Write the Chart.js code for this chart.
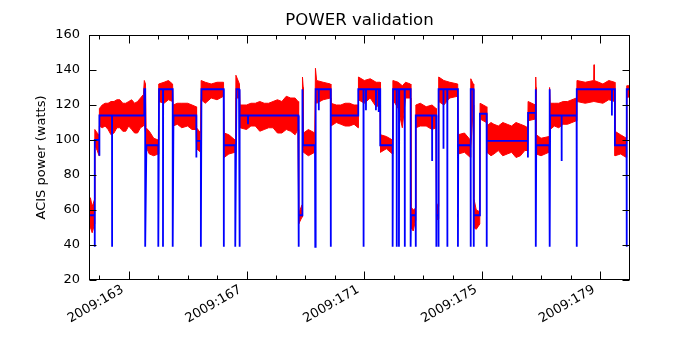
<!DOCTYPE html>
<html>
<head>
<meta charset="utf-8">
<title>POWER validation</title>
<script src="https://cdn.jsdelivr.net/npm/chart.js@4/dist/chart.umd.min.js"></script>
<style>
    body { margin: 0; background: #fff; }
    canvas { display: block; }
</style>
</head>
<body>
<canvas id="powerChart" width="700" height="350"></canvas>
<script>
// x values are day-of-year in 2009
const xMin = 161.652;
const xMax = 180.02;
const majorTickDays = [163, 167, 171, 175, 179];
const minorTickDays = [162, 164, 165, 166, 168, 169, 170, 172, 173, 174, 176, 177, 178, 180];
const yTickValues = [20, 40, 60, 80, 100, 120, 140, 160];

// model power (blue step line)
const modelDay = [
    161.652, 161.846, 161.846, 161.850, 162.000, 162.000, 162.010, 162.433, 162.433, 162.440,
    163.530, 163.530, 163.560, 163.560, 163.600, 164.005, 164.005, 164.030, 164.164, 164.164,
    164.170, 164.494, 164.494, 164.520, 165.295, 165.295, 165.300, 165.450, 165.450, 165.470,
    166.225, 166.225, 166.235, 166.618, 166.618, 166.660, 166.745, 166.755, 166.778, 167.050,
    167.050, 167.055, 168.757, 168.764, 168.780, 168.893, 168.893, 168.905, 168.920, 169.324,
    169.334, 169.348, 169.449, 169.449, 169.460, 169.857, 169.857, 169.867, 170.794, 170.794,
    170.970, 170.970, 170.980, 171.055, 171.055, 171.060, 171.394, 171.394, 171.400, 171.486,
    171.486, 171.490, 171.540, 171.540, 171.961, 171.961, 171.975, 172.097, 172.097, 172.105,
    172.175, 172.175, 172.185, 172.369, 172.369, 172.380, 172.572, 172.572, 172.585, 172.742,
    172.742, 172.752, 173.300, 173.300, 173.305, 173.441, 173.441, 173.450, 173.516, 173.516,
    173.525, 173.686, 173.686, 173.690, 173.815, 173.815, 173.825, 174.178, 174.178, 174.188,
    174.609, 174.609, 174.615, 174.705, 174.711, 174.720, 174.925, 174.925, 175.152, 175.152,
    175.160, 176.554, 176.554, 176.560, 176.815, 176.815, 176.825, 176.825, 176.836, 177.280,
    177.280, 177.300, 177.300, 177.310, 177.698, 177.698, 177.703, 178.207, 178.207, 178.217,
    179.405, 179.405, 179.410, 179.507, 179.507, 179.904, 179.904, 179.914, 180.020
];
const modelWatts = [
    57, 57, 39, 100, 100, 91, 114, 114, 39, 114,
    114, 129, 129, 39, 97, 97, 39, 129, 129, 39,
    129, 129, 39, 114, 114, 90, 99.5, 99.5, 39, 129,
    129, 39, 97, 97, 39, 129, 129, 39, 114, 114,
    109, 114, 114, 39, 57, 57, 129, 129, 97, 97,
    39, 129, 129, 117, 129, 129, 39, 114, 114, 129,
    129, 39, 129, 129, 117, 129, 129, 117, 129, 129,
    116, 129, 129, 97, 97, 39, 129, 129, 39, 129,
    129, 39, 129, 129, 39, 129, 129, 39, 57, 57,
    39, 114, 114, 88, 114, 114, 39, 57, 57, 39,
    129, 129, 95, 129, 129, 39, 129, 129, 39, 97,
    97, 39, 129, 129, 39, 57, 57, 115, 115, 39,
    99.5, 99.5, 90, 115.5, 115.5, 129, 129, 39, 97, 97,
    129, 129, 39, 114, 114, 88, 114, 114, 39, 129,
    129, 114, 129, 129, 97, 97, 39, 129, 129
];

// telemetry (red) - low / high edge of the noisy band
const telemDay = [
    161.652, 161.700, 161.760, 161.840, 161.850, 161.930, 161.995, 162.005, 162.100, 162.200,
    162.300, 162.400, 162.500, 162.600, 162.700, 162.800, 162.900, 163.000, 163.100, 163.200,
    163.300, 163.400, 163.500, 163.530, 163.570, 163.590, 163.700, 163.850, 164.000, 164.020,
    164.200, 164.350, 164.490, 164.510, 164.650, 164.800, 165.000, 165.150, 165.290, 165.305,
    165.440, 165.460, 165.600, 165.800, 166.000, 166.220, 166.240, 166.400, 166.610, 166.640,
    166.760, 166.780, 167.000, 167.150, 167.300, 167.450, 167.600, 167.750, 167.900, 168.050,
    168.200, 168.350, 168.500, 168.650, 168.750, 168.770, 168.885, 168.900, 168.925, 168.935,
    169.100, 169.320, 169.340, 169.380, 169.600, 169.850, 169.865, 170.050, 170.200, 170.350,
    170.500, 170.650, 170.790, 170.800, 171.000, 171.200, 171.400, 171.535, 171.550, 171.750,
    171.955, 171.970, 172.150, 172.290, 172.400, 172.565, 172.580, 172.660, 172.735, 172.750,
    172.900, 173.100, 173.300, 173.435, 173.450, 173.510, 173.525, 173.700, 173.900, 174.170,
    174.185, 174.400, 174.600, 174.615, 174.700, 174.715, 174.800, 174.920, 174.930, 175.145,
    175.160, 175.300, 175.400, 175.550, 175.700, 175.850, 176.000, 176.150, 176.300, 176.450,
    176.550, 176.560, 176.810, 176.820, 176.830, 176.840, 177.000, 177.270, 177.290, 177.310,
    177.450, 177.600, 177.750, 177.900, 178.050, 178.200, 178.220, 178.500, 178.790, 178.800,
    178.810, 179.100, 179.300, 179.500, 179.510, 179.700, 179.900, 179.910, 180.020
];
const telemLow = [
    49, 50, 47, 52, 97, 94, 91, 108, 107, 108,
    106, 103, 104, 107, 107, 105, 105, 108, 106, 104,
    104, 107, 108, 110, 104, 96, 92, 91, 92, 122,
    121, 123, 122, 108, 109, 107, 108, 106, 106, 95,
    93, 123, 121, 124, 123, 125, 90, 92, 93, 124,
    124, 107, 106, 108, 108, 105, 106, 107, 107, 104,
    104, 106, 105, 103, 106, 52, 56, 97, 95, 93,
    91, 93, 122, 121, 123, 124, 108, 110, 109, 108,
    108, 109, 107, 123, 121, 124, 119, 120, 93, 95,
    92, 123, 118, 107, 124, 124, 50, 48, 54, 107,
    108, 108, 106, 107, 54, 55, 122, 120, 124, 125,
    92, 93, 90, 95, 120, 50, 49, 52, 112, 110,
    93, 91, 92, 94, 91, 92, 93, 90, 91, 94,
    94, 111, 112, 100, 96, 92, 91, 93, 110, 106,
    108, 107, 109, 109, 110, 111, 122, 121, 122, 122,
    122, 121, 123, 122, 91, 92, 90, 124, 125
];
const telemHigh = [
    64, 67, 62, 66, 106, 104, 103, 118, 120, 121,
    121, 122, 122, 123, 123, 121, 121, 122, 123, 121,
    122, 124, 126, 134, 132, 107, 105, 101, 100, 132,
    133, 134, 132, 120, 121, 121, 121, 120, 119, 107,
    104, 134, 133, 132, 133, 133, 104, 103, 100, 137,
    132, 120, 120, 121, 121, 122, 121, 121, 122, 123,
    122, 125, 124, 124, 122, 58, 63, 136, 130, 104,
    106, 104, 141, 134, 133, 132, 121, 120, 120, 121,
    121, 120, 120, 136, 134, 135, 133, 133, 103, 102,
    100, 134, 133, 131, 133, 132, 62, 60, 61, 120,
    121, 119, 120, 118, 64, 62, 136, 134, 133, 132,
    103, 104, 100, 135, 132, 67, 60, 59, 121, 119,
    108, 110, 109, 108, 110, 109, 108, 110, 109, 108,
    107, 122, 120, 136, 130, 103, 101, 102, 130, 121,
    121, 121, 122, 122, 123, 124, 134, 133, 134, 143,
    134, 132, 134, 133, 105, 103, 101, 131, 131
];

function toPoints(xs, ys) {
    return xs.map((x, i) => ({ x: x, y: ys[i] }));
}

const fontFamily = "'DejaVu Sans', sans-serif";

// matplotlib style frame with inward ticks on all four sides
const axesFrame = {
    id: 'axesFrame',
    afterDatasetsDraw(chart) {
        const ctx = chart.ctx;
        const area = chart.chartArea;
        const xs = chart.scales.x;
        const ys = chart.scales.y;
        const left = Math.round(area.left) + 0.5;
        const right = Math.round(area.right) - 0.5;
        const top = Math.round(area.top) + 0.5;
        const bottom = Math.round(area.bottom) - 0.5;

        ctx.save();
        ctx.strokeStyle = '#000';
        ctx.lineWidth = 1;
        ctx.beginPath();
        majorTickDays.forEach(d => {
            const px = Math.round(xs.getPixelForValue(d)) + 0.5;
            ctx.moveTo(px, bottom); ctx.lineTo(px, bottom - 8);
            ctx.moveTo(px, top); ctx.lineTo(px, top + 8);
        });
        minorTickDays.forEach(d => {
            if (d < xMin || d > xMax) return;
            const px = Math.round(xs.getPixelForValue(d)) + 0.5;
            ctx.moveTo(px, bottom); ctx.lineTo(px, bottom - 4);
            ctx.moveTo(px, top); ctx.lineTo(px, top + 4);
        });
        yTickValues.forEach(v => {
            const py = Math.round(ys.getPixelForValue(v)) + 0.5;
            ctx.moveTo(left, py); ctx.lineTo(left + 7, py);
            ctx.moveTo(right, py); ctx.lineTo(right - 7, py);
        });
        ctx.stroke();
        ctx.strokeRect(left, top, right - left, bottom - top);
        ctx.restore();
    }
};

const ctx = document.getElementById('powerChart').getContext('2d');

new Chart(ctx, {
    type: 'line',
    data: {
        datasets: [{
            label: 'telem high',
            data: toPoints(telemDay, telemHigh),
            borderColor: '#ff0000',
            borderWidth: 1,
            fill: false,
            order: 2
        }, {
            label: 'telem low',
            data: toPoints(telemDay, telemLow),
            borderColor: '#ff0000',
            backgroundColor: '#ff0000',
            borderWidth: 1,
            fill: '-1',
            order: 1
        }, {
            label: 'model',
            data: toPoints(modelDay, modelWatts),
            borderColor: '#0000ff',
            borderWidth: 1.8,
            fill: false,
            order: 0
        }]
    },
    options: {
        responsive: false,
        animation: false,
        devicePixelRatio: 1,
        layout: {
            padding: { left: 0, right: 70, top: 0, bottom: 0 }
        },
        elements: {
            point: { radius: 0 },
            line: { tension: 0 }
        },
        plugins: {
            legend: { display: false },
            tooltip: { enabled: false },
            title: {
                display: true,
                fullSize: false,
                text: 'POWER validation',
                color: '#000',
                font: { family: fontFamily, size: 16.6, weight: 'normal', lineHeight: '20px' },
                padding: { top: 11, bottom: 4 }
            }
        },
        scales: {
            x: {
                type: 'linear',
                min: xMin,
                max: xMax,
                grid: { display: false, drawTicks: false },
                border: { display: false },
                afterBuildTicks(scale) {
                    scale.ticks = majorTickDays.map(d => ({ value: d }));
                },
                afterFit(scale) {
                    scale.height = 70;
                },
                ticks: {
                    autoSkip: false,
                    minRotation: 30,
                    maxRotation: 30,
                    padding: 2,
                    labelOffset: -6,
                    color: '#000',
                    font: { family: fontFamily, size: 13 },
                    callback: value => '2009:' + value
                }
            },
            y: {
                min: 20,
                max: 160,
                grid: { display: false, drawTicks: false },
                border: { display: false },
                afterFit(scale) {
                    scale.width = 89;
                },
                ticks: {
                    stepSize: 20,
                    padding: 9,
                    color: '#000',
                    font: { family: fontFamily, size: 13 }
                },
                title: {
                    display: true,
                    text: 'ACIS power (watts)',
                    color: '#000',
                    font: { family: fontFamily, size: 13 },
                    padding: { top: 34, bottom: 0 }
                }
            }
        }
    },
    plugins: [axesFrame]
});
</script>
</body>
</html>
